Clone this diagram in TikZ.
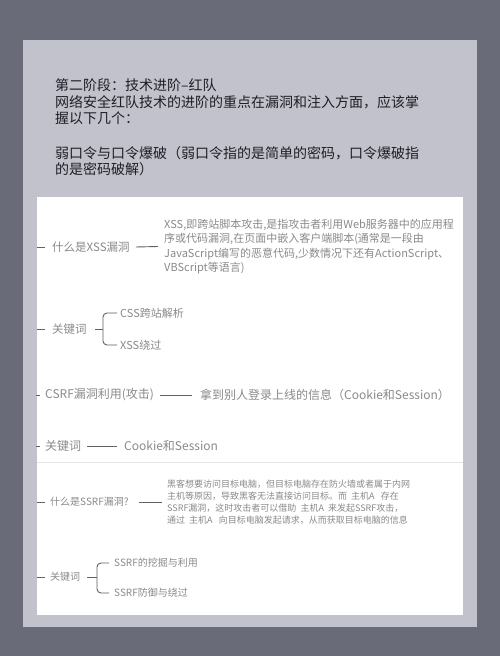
\documentclass[tikz,border=0pt]{standalone}
\usepackage{fontspec}
\setmainfont{Noto Sans CJK SC}
\definecolor{outerbg}{HTML}{6A6B78}
\definecolor{panelbg}{HTML}{C2C2CC}
\definecolor{titletext}{HTML}{1E1E22}
\definecolor{maptext}{HTML}{8A8A8E}
\definecolor{mapline}{HTML}{606066}
\definecolor{sepline}{HTML}{E4E4E8}
\begin{document}
\begin{tikzpicture}[x=1pt,y=-1pt,
  titleline/.style={anchor=base west,inner sep=0,text=titletext,font=\fontsize{14}{16.7}\selectfont},
  mapnode/.style={anchor=west,inner ysep=0,inner xsep=0,text=maptext},
  para/.style={mapnode,align=left},
  link/.style={draw=mapline,line width=0.9pt},
  brace/.style={link,rounded corners=4pt}]
\useasboundingbox (0,0) rectangle (500,656);
\fill[outerbg] (0,0) rectangle (500,656);
\fill[panelbg] (23,40) rectangle (477,627);
\fill[white] (37,197) rectangle (463,615);
\draw[sepline,line width=0.8pt] (37,462) -- (463,462);

% title text
\node[titleline] (t1) at (55,90) {第二阶段：技术进阶–红队};
\node[titleline] (t2) at (55,107) {网络安全红队技术的进阶的重点在漏洞和注入方面，应该掌};
\node[titleline] (t3) at (55,123.5) {握以下几个：};
\node[titleline] (t4) at (55,158) {弱口令与口令爆破（弱口令指的是简单的密码，口令爆破指};
\node[titleline] (t5) at (55,174.5) {的是密码破解）};

% XSS section
\coordinate (l1) at (37,247);
\node[mapnode,font=\fontsize{11.5}{14}\selectfont] (xssq) at (52,247) {什么是XSS漏洞};
\node[para,font=\fontsize{11}{14.5}\selectfont] (xssa) at (164,246.5) {XSS,即跨站脚本攻击,是指攻击者利用Web服务器中的应用程\\序或代码漏洞,在页面中嵌入客户端脚本(通常是一段由\\JavaScript编写的恶意代码,少数情况下还有ActionScript、\\VBScript等语言)};
\draw[link] (l1) -- ++(8,0);
\draw[link] ([xshift=6pt]xssq.east) -- ([xshift=-6pt]xssa.west);

\coordinate (l2) at (37,329);
\node[mapnode,font=\fontsize{11.5}{14}\selectfont] (kw1) at (52,329) {关键词};
\coordinate (b1) at (103,329);
\node[mapnode,font=\fontsize{11}{14}\selectfont] (css) at (120,313) {CSS跨站解析};
\node[mapnode,font=\fontsize{11}{14}\selectfont] (xssb) at (120,345) {XSS绕过};
\draw[link] (l2) -- ++(8,0);
\draw[link] ([xshift=8pt]kw1.east) -- (b1);
\draw[brace] ([xshift=-3pt]css.west) -- (b1 |- css.west) -- (b1 |- xssb.west) -- ([xshift=-3pt]xssb.west);

% CSRF section
\coordinate (l3) at (36,395);
\node[mapnode,font=\fontsize{12}{14}\selectfont] (csrf) at (45,395) {CSRF漏洞利用(攻击)};
\node[mapnode,font=\fontsize{12}{14}\selectfont] (csrfa) at (200,395) {拿到别人登录上线的信息（Cookie和Session）};
\draw[link] (l3) -- ++(4,0);
\draw[link] ([xshift=6pt]csrf.east) -- ([xshift=-8pt]csrfa.west);

\coordinate (l4) at (36,446);
\node[mapnode,font=\fontsize{12}{14}\selectfont] (kw2) at (45,446) {关键词};
\node[mapnode,font=\fontsize{12}{14}\selectfont] (cookie) at (124,446) {Cookie和Session};
\draw[link] (l4) -- ++(4,0);
\draw[link] ([xshift=6pt]kw2.east) -- ([xshift=-7pt]cookie.west);

% SSRF section
\coordinate (l5) at (37,502);
\node[mapnode,font=\fontsize{10}{12}\selectfont] (ssrfq) at (50,502) {什么是SSRF漏洞?};
\node[para,font=\fontsize{9}{12}\selectfont] (ssrfa) at (167,502) {黑客想要访问目标电脑，但目标电脑存在防火墙或者属于内网\\主机等原因，导致黑客无法直接访问目标。而\ \ 主机A\ \ \ 存在\\SSRF漏洞，这时攻击者可以借助\ \ 主机A\ \ 来发起SSRF攻击，\\通过\ \ 主机A\ \ \ 向目标电脑发起请求，从而获取目标电脑的信息};
\draw[link] (l5) -- ++(8,0);
\draw[link] ([xshift=10pt]ssrfq.east) -- ([xshift=-5pt]ssrfa.west);

\coordinate (l6) at (37,577);
\node[mapnode,font=\fontsize{10}{12}\selectfont] (kw3) at (50,577) {关键词};
\coordinate (b2) at (97,577);
\node[mapnode,font=\fontsize{10}{12}\selectfont] (ssrf1) at (114,563) {SSRF的挖掘与利用};
\node[mapnode,font=\fontsize{10}{12}\selectfont] (ssrf2) at (114,593) {SSRF防御与绕过};
\draw[link] (l6) -- ++(8,0);
\draw[link] ([xshift=7pt]kw3.east) -- (b2);
\draw[brace] ([xshift=-5pt]ssrf1.west) -- (b2 |- ssrf1.west) -- (b2 |- ssrf2.west) -- ([xshift=-5pt]ssrf2.west);
\end{tikzpicture}
\end{document}
